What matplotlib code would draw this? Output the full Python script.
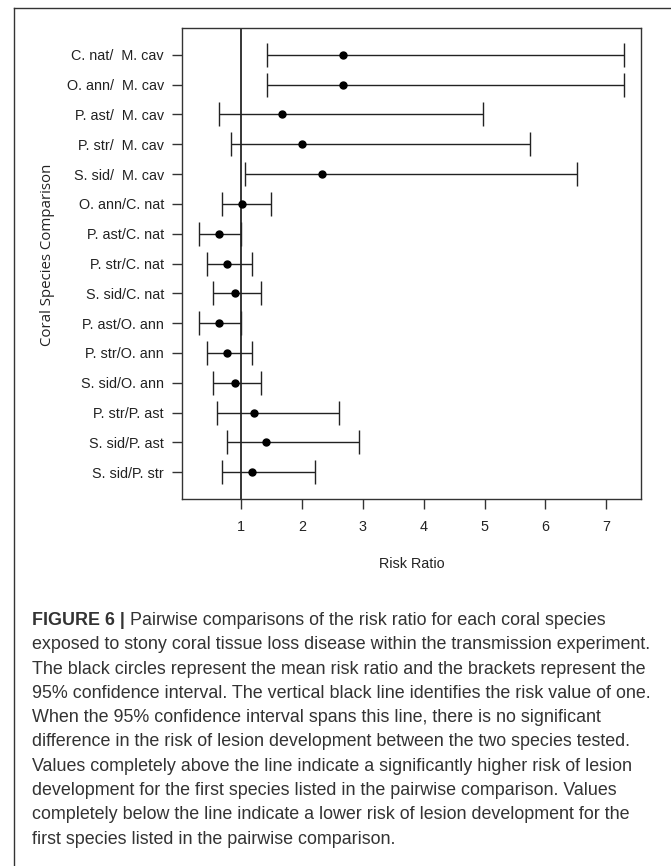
import matplotlib
matplotlib.use("Agg")
import matplotlib.pyplot as plt
from matplotlib.lines import Line2D

labels = ["C. nat/  M. cav", "O. ann/  M. cav", "P. ast/  M. cav", "P. str/  M. cav",
          "S. sid/  M. cav", "O. ann/C. nat", "P. ast/C. nat", "P. str/C. nat",
          "S. sid/C. nat", "P. ast/O. ann", "P. str/O. ann", "S. sid/O. ann",
          "P. str/P. ast", "S. sid/P. ast", "S. sid/P. str"]
mean_rr = [2.675, 2.675, 1.678, 2.007, 2.33, 1.01, 0.644, 0.775, 0.897,
           0.644, 0.775, 0.897, 1.213, 1.41, 1.18]
lower_ci = [1.427, 1.427, 0.634, 0.831, 1.06, 0.693, 0.315, 0.437, 0.535,
            0.315, 0.437, 0.535, 0.606, 0.775, 0.683]
upper_ci = [7.284, 7.284, 4.974, 5.75, 6.517, 1.49, 1.0, 1.175, 1.333,
            1.0, 1.175, 1.333, 2.61, 2.94, 2.21]
xticks = [1, 2, 3, 4, 5, 6, 7]

caption_bold = "FIGURE 6 | "
caption_first = "Pairwise comparisons of the risk ratio for each coral species"
caption_rest = [
    "exposed to stony coral tissue loss disease within the transmission experiment.",
    "The black circles represent the mean risk ratio and the brackets represent the",
    "95% confidence interval. The vertical black line identifies the risk value of one.",
    "When the 95% confidence interval spans this line, there is no significant",
    "difference in the risk of lesion development between the two species tested.",
    "Values completely above the line indicate a significantly higher risk of lesion",
    "development for the first species listed in the pairwise comparison. Values",
    "completely below the line indicate a lower risk of lesion development for the",
    "first species listed in the pairwise comparison.",
]

W, H = 671, 866
fig = plt.figure(figsize=(W / 100, H / 100), dpi=100)
fig.patch.set_facecolor("white")

# outer frame (top and left)
fig.add_artist(Line2D([14 / W, 14 / W], [0, 1 - 8 / H], transform=fig.transFigure,
                      color="#333333", lw=1.0))
fig.add_artist(Line2D([14 / W, 1], [1 - 8 / H, 1 - 8 / H], transform=fig.transFigure,
                      color="#333333", lw=1.0))

ax = fig.add_axes([182 / W, 1 - 499 / H, (641 - 182) / W, (499 - 28) / H])
n = len(labels)
ypos = list(range(1, n + 1))
xerr = [[m - l for m, l in zip(mean_rr, lower_ci)], [u - m for m, u in zip(mean_rr, upper_ci)]]
ax.errorbar(mean_rr, ypos, xerr=xerr, fmt="o", color="black", ecolor="#222222",
            elinewidth=1.0, capsize=8.6, capthick=1.0, markersize=5, zorder=3)
ax.axvline(1, color="black", lw=1.1, zorder=2)

ax.set_xlim(0.03, 7.57)
ax.set_ylim(n + 0.9, 0.1)
ax.set_yticks(ypos)
ax.set_yticklabels(labels, fontfamily="Liberation Sans", fontsize=10.4, color="#222222")
ax.set_xticks(xticks)
ax.set_xticklabels([str(t) for t in xticks], fontfamily="Liberation Sans", fontsize=10.4,
                   color="#222222")
ax.tick_params(axis="x", length=7, width=1.0, color="#333333", pad=8)
ax.tick_params(axis="y", length=7, width=1.0, color="#333333", pad=6)
for s in ax.spines.values():
    s.set_color("#333333")
    s.set_linewidth(1.0)

ax.set_xlabel("Risk Ratio", fontfamily="Liberation Sans", fontsize=10.4, color="#222222",
              labelpad=17)
fig.text(48 / W, 1 - 255 / H, "Coral Species Comparison", rotation=90, ha="center",
         va="center", fontfamily="Open Sans", fontsize=10.8, color="#222222")

# caption
cap_kw = dict(fontfamily="Liberation Sans", fontsize=12.9, color="#333333", va="baseline")
x0 = 32 / W
y0 = 1 - 625 / H
lh = 24.3 / H
tb = fig.text(x0, y0, caption_bold, fontweight="bold", **cap_kw)
fig.canvas.draw()
bb = tb.get_window_extent(renderer=fig.canvas.get_renderer())
fig.text(bb.x1 / W, y0, caption_first, **cap_kw)
for i, line in enumerate(caption_rest):
    fig.text(x0, y0 - (i + 1) * lh, line, **cap_kw)

fig.savefig("out.png", dpi=100)
